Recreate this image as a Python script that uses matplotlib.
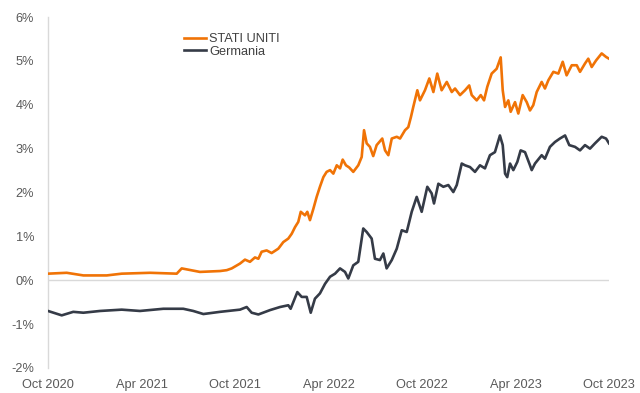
import matplotlib
matplotlib.use("Agg")
import matplotlib.pyplot as plt
from matplotlib.ticker import FuncFormatter

# x values: months elapsed since October 2020
us_months = [0, 1.20, 2.27, 3.77, 4.73, 6.55, 8.26, 8.58, 9.75, 11.04, 11.47, 11.79, 12.32, 12.64,
             12.96, 13.28, 13.50, 13.71, 14.03, 14.35, 14.78, 15.10, 15.42, 15.64, 15.85, 16.06,
             16.22, 16.49, 16.64, 16.81, 17.03, 17.24, 17.45, 17.67, 17.88, 18.10, 18.31, 18.53,
             18.74, 18.91, 19.12, 19.33, 19.59, 19.91, 20.13, 20.28, 20.45, 20.66, 20.87, 21.09,
             21.45, 21.63, 21.84, 22.06, 22.38, 22.59, 22.91, 23.12, 23.29, 23.44, 23.70, 23.87,
             24.19, 24.47, 24.73, 24.98, 25.26, 25.59, 25.91, 26.12, 26.44, 26.76, 27.03, 27.19,
             27.51, 27.77, 27.98, 28.19, 28.47, 28.79, 29.05, 29.18, 29.33, 29.54, 29.69, 29.97,
             30.18, 30.46, 30.72, 30.93, 31.14, 31.36, 31.68, 31.89, 32.11, 32.43, 32.75, 33.03,
             33.28, 33.61, 33.93, 34.14, 34.46, 34.67, 34.89, 35.17, 35.53, 35.81, 36.0]
us_yield = [0.15, 0.17, 0.11, 0.11, 0.15, 0.17, 0.15, 0.27, 0.19, 0.21, 0.23, 0.27, 0.38, 0.47,
            0.42, 0.52, 0.49, 0.65, 0.68, 0.62, 0.72, 0.87, 0.95, 1.06, 1.21, 1.33,
            1.56, 1.48, 1.56, 1.37, 1.63, 1.90, 2.13, 2.35, 2.47, 2.51, 2.43, 2.62,
            2.55, 2.75, 2.62, 2.57, 2.47, 2.62, 2.81, 3.42, 3.12, 3.04, 2.83, 3.08,
            3.23, 2.96, 2.85, 3.23, 3.27, 3.23, 3.42, 3.49, 3.72, 3.95, 4.33, 4.10,
            4.33, 4.60, 4.29, 4.71, 4.33, 4.52, 4.29, 4.37, 4.22, 4.33, 4.44, 4.22,
            4.10, 4.22, 4.10, 4.41, 4.71, 4.82, 5.08, 4.33, 3.95, 4.10, 3.84, 4.06,
            3.80, 4.22, 4.06, 3.87, 3.99, 4.29, 4.52, 4.37, 4.56, 4.75, 4.71, 4.98,
            4.67, 4.90, 4.90, 4.75, 4.94, 5.05, 4.86, 5.01, 5.17, 5.09, 5.05]

de_months = [0, 0.88, 1.62, 2.27, 3.34, 4.73, 5.90, 7.40, 8.68, 9.32, 9.97, 11.04, 12.32, 12.75,
             13.07, 13.50, 14.25, 14.89, 15.42, 15.57, 16.00, 16.28, 16.60, 16.86, 17.13, 17.45,
             17.78, 18.10, 18.42, 18.74, 19.06, 19.27, 19.59, 19.91, 20.23, 20.45, 20.77, 20.98,
             21.30, 21.52, 21.73, 22.06, 22.38, 22.70, 23.02, 23.34, 23.66, 23.98, 24.34, 24.62,
             24.77, 25.05, 25.37, 25.69, 26.01, 26.23, 26.55, 26.76, 27.08, 27.40, 27.72, 28.04,
             28.36, 28.68, 29.00, 29.18, 29.33, 29.47, 29.65, 29.86, 30.12, 30.33, 30.61, 30.93,
             31.04, 31.25, 31.68, 31.89, 32.21, 32.53, 32.85, 33.18, 33.45, 33.82, 34.14, 34.46,
             34.78, 35.10, 35.53, 35.81, 36.0]
de_yield = [-0.70, -0.80, -0.72, -0.74, -0.70, -0.67, -0.70, -0.65, -0.65, -0.70, -0.77, -0.72, -0.67, -0.61,
            -0.74, -0.78, -0.68, -0.61, -0.57, -0.65, -0.27, -0.38, -0.38, -0.74, -0.42, -0.30,
            -0.08, 0.08, 0.15, 0.27, 0.19, 0.04, 0.34, 0.42, 1.18, 1.10, 0.95, 0.49,
            0.46, 0.61, 0.27, 0.46, 0.72, 1.14, 1.10, 1.56, 1.90, 1.56, 2.13, 1.98,
            1.75, 2.20, 2.13, 2.17, 2.01, 2.17, 2.66, 2.62, 2.58, 2.47, 2.62, 2.55,
            2.85, 2.92, 3.30, 3.08, 2.43, 2.35, 2.66, 2.51, 2.70, 2.96, 2.92, 2.62,
            2.51, 2.66, 2.85, 2.77, 3.04, 3.15, 3.23, 3.30, 3.08, 3.04, 2.96, 3.08,
            3.00, 3.12, 3.27, 3.23, 3.12]

tick_months = [0, 6, 12, 18, 24, 30, 36]
tick_labels = ["Oct 2020", "Apr 2021", "Oct 2021", "Apr 2022", "Oct 2022", "Apr 2023", "Oct 2023"]
y_ticks = [-2, -1, 0, 1, 2, 3, 4, 5, 6]
series_names = ["STATI UNITI", "Germania"]

ORANGE = "#F07306"
DARK = "#353B47"
TXT = "#595959"

plt.rcParams["font.family"] = ["Liberation Sans", "DejaVu Sans"]

fig = plt.figure(figsize=(6.4, 3.93), dpi=100)
ax = fig.add_axes([48 / 640, 1 - 368 / 393, (609 - 48) / 640, (368 - 17) / 393])

ax.axhline(0, color="#D9D9D9", lw=1.0, zorder=1)
ax.plot(us_months, us_yield, color=ORANGE, lw=1.9, label=series_names[0], zorder=3)
ax.plot(de_months, de_yield, color=DARK, lw=1.9, label=series_names[1], zorder=3)

ax.set_xlim(0, 36)
ax.set_ylim(-2, 6)
ax.set_xticks(tick_months)
ax.set_xticklabels(tick_labels)
ax.set_yticks(y_ticks)
ax.yaxis.set_major_formatter(FuncFormatter(lambda v, p: f"{int(v)}%"))
ax.tick_params(axis="both", length=0, labelsize=9.2, colors=TXT)
ax.tick_params(axis="x", pad=8)
ax.tick_params(axis="y", pad=10)

for s in ["top", "right", "bottom"]:
    ax.spines[s].set_visible(False)
ax.spines["left"].set_color("#D9D9D9")
ax.spines["left"].set_linewidth(1.0)

leg = ax.legend(loc="upper left", bbox_to_anchor=(184 / 640, 1 - 33 / 393),
                bbox_transform=fig.transFigure, frameon=False, fontsize=9.2,
                handlelength=1.75, handletextpad=0.2, labelspacing=0.05,
                borderpad=0, borderaxespad=0)
for t in leg.get_texts():
    t.set_color("#404040")

fig.savefig("out.png", dpi=100)
